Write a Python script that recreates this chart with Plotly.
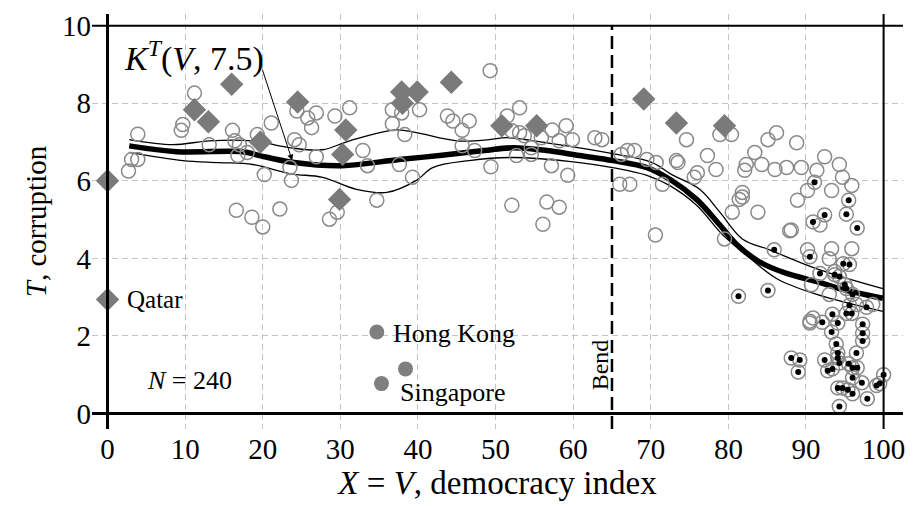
import plotly.graph_objects as go

# ---------------- data ----------------
# open circles (countries)
open_x = [3.9, 3.1, 3.9, 2.7, 11.2, 9.7, 9.5, 13.1, 16.1, 16.4, 17.0, 16.8, 18.0, 19.3, 21.1, 20.2, 23.5, 23.7,
          24.4, 24.1, 16.6, 18.6, 20.0, 22.2,
          25.8, 26.3, 26.9, 24.7, 26.9, 29.3, 31.2, 32.9, 33.5, 36.7, 36.7, 37.9, 40.2, 38.3, 37.6, 39.3, 34.7,
          28.6, 29.6, 43.8, 44.5, 45.7, 46.6, 47.3, 49.3, 49.4, 45.7,
          51.5, 53.1, 52.1, 53.1, 53.7, 52.7, 54.6, 54.6, 55.9, 57.3, 59.1, 58.2, 59.9, 57.2, 59.3, 62.8, 63.7,
          52.1, 56.6, 58.2, 56.1, 66.0, 67.3, 66.2, 67.0, 67.9, 69.5, 70.7, 71.5, 73.3, 70.6,
          74.6, 78.9, 80.4, 73.5, 77.3, 78.4, 76.0, 75.6, 82.3, 82.1, 83.4, 84.3, 85.1, 86.2, 86.0, 87.5, 89.4,
          88.8, 81.8, 81.4, 81.8, 80.5, 83.8, 87.9, 79.5, 88.9, 90.5,
          92.4, 94.3, 91.4, 94.7, 95.9, 93.3, 90.2, 91.8, 88.1, 90.2, 93.3, 95.9, 93.0, 93.7, 90.7, 93.0, 96.5,
          98.6, 90.9, 90.5]
open_y = [7.2, 6.55, 6.55, 6.25, 8.26, 7.45, 7.3, 6.93, 7.3, 7.03, 6.93, 6.65, 6.73, 7.19, 7.49, 6.16, 6.34, 6.01,
          7.8, 7.06, 5.24, 5.06, 4.81, 5.27,
          7.62, 7.37, 7.75, 6.93, 6.62, 7.67, 7.88, 6.78, 6.39, 7.83, 7.47, 7.75, 7.83, 7.19, 6.42, 6.09, 5.5,
          5.01, 5.19, 7.67, 7.54, 7.3, 7.54, 6.78, 8.84, 6.36, 6.9,
          7.67, 7.88, 7.29, 7.24, 7.16, 6.65, 6.68, 6.85, 7.11, 7.31, 7.42, 7.03, 7.06, 6.39, 6.14, 7.11, 7.06,
          5.37, 5.45, 5.32, 4.88, 5.91, 5.91, 6.68, 6.78, 6.78, 6.55, 6.47, 5.91, 6.52, 4.6,
          7.06, 7.19, 7.19, 6.47, 6.65, 6.29, 6.21, 6.09, 6.42, 6.27, 6.73, 6.42, 7.06, 7.24, 6.29, 6.34, 6.34,
          6.98, 5.7, 5.52, 5.58, 5.19, 5.19, 4.71, 4.5, 5.5, 2.38,
          6.62, 6.42, 6.27, 6.09, 5.88, 5.75, 5.75, 4.86, 4.73, 4.22, 4.25, 4.25, 3.99, 3.66, 3.32, 3.07, 2.81,
          2.81, 2.46, 2.33]

# circles with a black dot
dot_x = [91.1, 92.4, 90.9, 95.5, 95.2, 96.6, 90.5, 94.8, 95.6, 91.8, 93.7, 94.3, 95.0, 95.2, 96.0, 95.6, 95.2,
         95.9, 97.8, 93.4, 92.1, 94.1, 93.3, 97.3, 97.3, 97.3, 93.9, 94.1, 94.1, 96.5, 94.3, 95.5, 96.0, 96.6,
         92.4, 92.8, 93.4, 96.0, 97.2, 94.1, 94.7, 95.4, 96.0, 97.9, 94.3, 99.1, 99.5, 100.0, 89.2, 88.1, 89.0,
         85.9, 81.3, 85.1]
dot_y = [5.96, 5.12, 4.94, 5.5, 5.14, 4.78, 4.04, 3.86, 3.84, 3.61, 3.58, 3.53, 3.32, 3.22, 3.07, 2.79, 2.58,
         2.58, 2.74, 2.56, 2.35, 2.33, 2.1, 2.3, 2.07, 1.87, 1.79, 1.56, 1.43, 1.56, 1.3, 1.28, 1.18, 1.18,
         1.38, 1.1, 1.15, 0.92, 0.79, 0.66, 0.66, 0.61, 0.51, 0.38, 0.18, 0.72, 0.77, 1.0, 1.38, 1.43, 1.07,
         4.22, 3.02, 3.17]

# diamonds
dia_x = [0, 0, 11.2, 13.0, 16.0, 19.7, 24.5, 30.7, 30.3, 29.9, 37.9, 38.0, 39.9, 44.3, 50.8, 55.3, 69.1, 73.3, 79.5]
dia_y = [6.0, 2.94, 7.83, 7.52, 8.49, 7.0, 8.03, 7.31, 6.68, 5.52, 8.29, 8.0, 8.29, 8.54, 7.42, 7.42, 8.11, 7.49, 7.42]

# filled circles (Hong Kong, Singapore)
fill_x = [34.7, 38.4, 35.3]
fill_y = [2.1, 1.15, 0.77]

# kernel regression curve and its bands
curve_x = [2.8, 8.9, 17.4, 19.6, 23.8, 30.2, 37.6, 42.8, 48.5, 52.2, 56.6, 60.8, 65.1, 69.5, 72.6, 75.9, 78.9,
           81.1, 84.0, 87.5, 91.4, 94.3, 99.9]
curve_y = [6.9, 6.75, 6.75, 6.65, 6.48, 6.39, 6.55, 6.65, 6.78, 6.85, 6.78, 6.65, 6.52, 6.34, 6.02, 5.52, 4.86,
           4.35, 3.91, 3.61, 3.4, 3.22, 2.97]
upper_x = [2.8, 8.4, 13.1, 18.7, 23.6, 27.7, 31.2, 37.2, 39.8, 45.0, 49.2, 51.4, 56.6, 65.1, 70.2, 72.6, 76.3,
           78.9, 81.8, 85.3, 91.4, 99.9]
upper_y = [7.06, 6.93, 7.03, 7.03, 6.85, 6.8, 7.03, 7.31, 7.24, 7.03, 7.06, 7.11, 6.98, 6.7, 6.47, 6.17, 5.78,
           5.19, 4.5, 4.22, 3.73, 3.22]
lower_x = [2.8, 9.7, 14.4, 18.7, 23.6, 27.7, 32.1, 36.0, 39.8, 41.9, 46.6, 52.2, 60.8, 65.1, 69.5, 72.4, 75.9,
           79.3, 82.3, 86.2, 91.4, 99.9]
lower_y = [6.73, 6.52, 6.47, 6.42, 6.18, 6.09, 5.78, 5.7, 6.01, 6.34, 6.52, 6.6, 6.47, 6.34, 6.14, 5.88, 5.37,
           4.6, 4.09, 3.48, 3.07, 2.63]

x_ticks = [0, 10, 20, 30, 40, 50, 60, 70, 80, 90, 100]
y_ticks = [0, 2, 4, 6, 8, 10]
bend_x = 65

# ---------------- figure ----------------
FONT = "Liberation Serif"
GRAY = "#8a8a8a"

fig = go.Figure()

fig.add_trace(go.Scatter(x=upper_x, y=upper_y, mode="lines", line=dict(color="black", width=1.3, shape="spline"),
                         hoverinfo="skip"))
fig.add_trace(go.Scatter(x=lower_x, y=lower_y, mode="lines", line=dict(color="black", width=1.3, shape="spline"),
                         hoverinfo="skip"))
fig.add_trace(go.Scatter(x=curve_x, y=curve_y, mode="lines", line=dict(color="black", width=5.5, shape="spline"),
                         hoverinfo="skip"))

fig.add_trace(go.Scatter(x=open_x + dot_x, y=open_y + dot_y, mode="markers",
                         marker=dict(symbol="circle-open", size=14, color=GRAY, line=dict(width=1.5, color=GRAY))))
fig.add_trace(go.Scatter(x=dot_x, y=dot_y, mode="markers",
                         marker=dict(symbol="circle", size=6, color="black")))
fig.add_trace(go.Scatter(x=dia_x, y=dia_y, mode="markers",
                         marker=dict(symbol="diamond", size=18, color="#7a7a7a", line=dict(width=0))))
fig.add_trace(go.Scatter(x=fill_x, y=fill_y, mode="markers",
                         marker=dict(symbol="circle", size=15, color="#7f7f7f", line=dict(width=0))))

# frame lines
fig.add_shape(type="line", xref="paper", yref="y", x0=0, x1=1, y0=0, y1=0, line=dict(color="black", width=3))
fig.add_shape(type="line", xref="paper", yref="y", x0=0, x1=1, y0=10, y1=10, line=dict(color="black", width=2))
fig.add_shape(type="line", xref="x", yref="paper", x0=0, x1=0, y0=0, y1=1, line=dict(color="black", width=3))
fig.add_shape(type="line", xref="x", yref="paper", x0=100, x1=100, y0=0, y1=1, line=dict(color="black", width=2))
fig.add_shape(type="line", xref="x", yref="y", x0=bend_x, x1=bend_x, y0=-0.4, y1=10,
              line=dict(color="black", width=2.5, dash="13px,6px"))

ann = []
ann.append(dict(x=bend_x - 1.5, y=1.25, text="Bend", textangle=-90, showarrow=False,
                font=dict(family=FONT, size=24, color="black")))
ann.append(dict(x=2.2, y=2.94, text="Qatar", xanchor="left", showarrow=False,
                font=dict(family=FONT, size=25, color="black")))
ann.append(dict(x=36.5, y=2.05, text="Hong Kong", xanchor="left", showarrow=False,
                font=dict(family=FONT, size=26, color="black")))
ann.append(dict(x=37.4, y=0.54, text="Singapore", xanchor="left", showarrow=False,
                font=dict(family=FONT, size=26, color="black")))
ann.append(dict(x=10.6, y=0.85, text="<i>N</i> = 240", showarrow=False,
                font=dict(family=FONT, size=26, color="black")))
ann.append(dict(x=11.2, y=9.2, text="<i>K</i><sup><i>T</i></sup>(<i>V</i>, 7.5)", showarrow=False,
                font=dict(family=FONT, size=34, color="black")))
ann.append(dict(x=23.8, y=6.52, ax=19.9, ay=8.9, axref="x", ayref="y", text="", showarrow=True,
                arrowhead=2, arrowsize=1.2, arrowwidth=1, arrowcolor="black"))

fig.update_layout(
    width=918, height=506,
    margin=dict(l=92, r=15, t=10, b=77),
    plot_bgcolor="white", paper_bgcolor="white",
    showlegend=False,
    font=dict(family=FONT, color="black"),
    annotations=ann,
    xaxis=dict(range=[-2, 102.5], tickvals=x_ticks, ticks="", showline=False, zeroline=False,
               showgrid=True, gridcolor="#c4c4c4", griddash="6px,4px", gridwidth=1,
               tickfont=dict(family=FONT, size=29, color="black"),
               title=dict(text="<i>X</i> = <i>V</i>, democracy index", standoff=0,
                          font=dict(family=FONT, size=33, color="black"))),
    yaxis=dict(range=[-0.4, 10.3], tickvals=y_ticks, ticks="", showline=False, zeroline=False,
               showgrid=True, gridcolor="#c4c4c4", griddash="6px,4px", gridwidth=1,
               tickfont=dict(family=FONT, size=29, color="black"),
               title=dict(text="<i>T</i>, corruption", standoff=6,
                          font=dict(family=FONT, size=29, color="black"))),
)

fig.write_html("out.html")
